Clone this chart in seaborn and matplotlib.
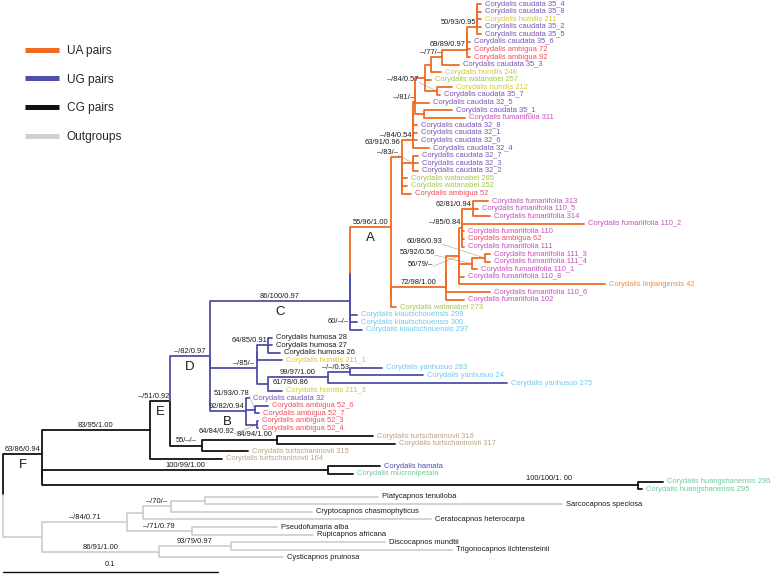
import pandas as pd
import matplotlib
matplotlib.use("Agg")
import matplotlib.pyplot as plt
from matplotlib.lines import Line2D
import seaborn as sns

# tip labels, top to bottom
taxa = [
    "Corydalis caudata 35_4", "Corydalis caudata 35_8", "Corydalis humilis 211",
    "Corydalis caudata 35_2", "Corydalis caudata 35_5", "Corydalis caudata 35_6",
    "Corydalis ambigua 72", "Corydalis ambigua 92", "Corydalis caudata 35_3",
    "Corydalis humilis 248", "Corydalis watanabei 257", "Corydalis humilis 212",
    "Corydalis caudata 35_7", "Corydalis caudata 32_5", "Corydalis caudata 35_1",
    "Corydalis fumariifolia 311", "Corydalis caudata 32_8", "Corydalis caudata 32_1",
    "Corydalis caudata 32_6", "Corydalis caudata 32_4", "Corydalis caudata 32_7",
    "Corydalis caudata 32_3", "Corydalis caudata 32_2", "Corydalis watanabei 265",
    "Corydalis watanabei 252", "Corydalis ambigua 52", "Corydalis fumariifolia 313",
    "Corydalis fumariifolia 110_5", "Corydalis fumariifolia 314", "Corydalis fumariifolia 110_2",
    "Corydalis fumariifolia 110", "Corydalis ambigua 62", "Corydalis fumariifolia 111",
    "Corydalis fumariifolia 111_3", "Corydalis fumariifolia 111_4", "Corydalis fumariifolia 110_1",
    "Corydalis fumariifolia 110_8", "Corydalis linjiangensis 42", "Corydalis fumariifolia 110_6",
    "Corydalis fumariifolia 102", "Corydalis watanabei 273", "Corydalis kiautschouensis 299",
    "Corydalis kiautschouensis 300", "Corydalis kiautschouensis 297", "Corydalis humosa 28",
    "Corydalis humosa 27", "Corydalis humosa 26", "Corydalis humilis 211_1",
    "Corydalis yanhusuo 283", "Corydalis yanhusuo 24", "Corydalis yanhusuo 275",
    "Corydalis humilis 211_3", "Corydalis caudata 32", "Corydalis ambigua 52_6",
    "Corydalis ambigua 52_7", "Corydalis ambigua 52_3", "Corydalis ambigua 52_4",
    "Corydalis turtschaninovii 316", "Corydalis turtschaninovii 317",
    "Corydalis turtschaninovii 315", "Corydalis turtschaninovii 164",
    "Corydalis hamata", "Corydalis mucronipetala", "Corydalis huangshanensis 296",
    "Corydalis huangshanensis 295", "Platycapnos tenuiloba", "Sarcocapnos speciosa",
    "Cryptocapnos chasmophyticus", "Ceratocapnos heterocarpa", "Pseudofumaria alba",
    "Rupicapnos africana", "Discocapnos mundtii", "Trigonocapnos lichtensteinii",
    "Cysticapnos pruinosa",
]

species_colors = {
    "caudata": "#7b52b5", "humilis": "#d8c53a", "ambigua": "#ee4d5c",
    "watanabei": "#a2c64c", "fumariifolia": "#c44fba", "linjiangensis": "#f08c34",
    "kiautschouensis": "#6cc8ec", "yanhusuo": "#6cc8ec", "humosa": "#1a1a1a",
    "turtschaninovii": "#bba285", "hamata": "#4c4fad", "mucronipetala": "#6ec89a",
    "huangshanensis": "#6ec89a",
}

# tree pieces (newick, tips = index in taxa, branch lengths in 0.001 subst./site)
top5 = "((((0:1.9,1:1.9):0,2:1.9):0,3:1.9):0,4:1.9)50/93/0.95:4.7"
n69 = f"((({top5},5:1.4):0,6:1.4):0,7:1.4)69/89/0.97:11.6"
n77 = f"({n69},8:7.9)–/77/–:5.1"
n_top = f"(({n77},9:4.7):2.8,10:2.8,(11:7.0,12:1.4)–/84/0.57:5.6):4.7"
n81 = f"(({n_top},13:6.5):0,(14:13.0,15:19.1):4.2)–/81/–:0.9"
n84b = f"(((({n81},16:1.9):0,17:1.9):0,18:1.9):0,19:7.4)–/84/0.54:5.1"
n83 = "(20:2.3,21:2.3,22:2.3)–/83/–:5.1"
u_clade = f"({n84b},({n83},(23:2.3,(24:2.3,25:4.2):0):0):0)63/91/0.96:5.1"
n85 = "((26:7.0,27:2.3,28:7.9)62/81/0.94:5.1,29:56.7,30:0.9,31:0.9,32:0.9)–/85/0.84:1.4"
s_clade = f"({n85},((33:2.3,34:2.3)60/86/0.93:6.0,35:2.3)53/92/0.56:6.0,36:2.3,37:67.9)56/79/–:6.0"
fum_clade = f"(({s_clade},38:20.5):0,39:8.4)72/98/1.00:25.6"
a_clade = f"({u_clade},({fum_clade},40:2.3):0)55/96/1.00#A:19.1"
c_clade = f"(({a_clade},(41:3.3,42:3.3)60/–/–:0):0,43:5.6)86/100/0.97#C:65.1"
x85 = ("(((44:1.9,45:1.9,46:5.6)64/85/0.91:5.1,47:11.6):0,"
       "(((48:14.9,49:34.0)–/–/0.53:10.2,50:83.3)99/97/1.00:27.9,51:6.5)61/78/0.86:5.1)–/85/–:21.9")
b_clade = "(52:1.4,(53:6.0,54:1.9)51/93/0.78:4.2,(55:0.5,56:0.5)64/84/0.92:5.1)92/82/0.94#B:16.7"
d_clade = f"({c_clade},{x85},{b_clade})–/82/0.97#D:18.6"
t_clade = "((57:44.7,58:54.9)84/94/1.00:34.9,59:21.4)55/–/–:14.9"
e_clade = f"(({d_clade},{t_clade})–/51/0.92#E:9.3,60:33.5)83/95/1.00:50.2"
f_clade = (f"({e_clade},((61:24.2,62:11.6)100/99/1.00:133.0,"
           "(63:11.6,64:1.9)100/100/1. 00:277.2):0)63/86/0.94#F:18.1")
og_x = "((((65:80.5,66:166.0):15.8,67:65.6)–/70/–:13.0,68:134.0):7.4,(69:39.5,70:56.3)–/71/0.79:30.2)–/84/0.71:39.5"
og_y = "((71:71.6,72:102.8)93/79/0.97:33.5,73:57.7)86/91/1.00:54.4"
og_clade = f"({og_x},{og_y})#OG:18.1"
newick = f"({f_clade},{og_clade});"

pair_groups = {"A": "UA pairs", "D": "UG pairs", "OG": "Outgroups"}
pair_colors = {"UA pairs": "#f06a22", "UG pairs": "#4e4fa8",
               "CG pairs": "#111111", "Outgroups": "#d0d0d0"}
clade_letters = ["A", "B", "C", "D", "E", "F"]

# hand-placed support labels: (dx, dy, leader line)
label_moves = {
    "63/91/0.96": (-9.1, -1.82, False),
    "–/84/0.57": (-15.8, -1.48, True),
    "–/83/–": (-11.6, -1.35, True),
    "60/86/0.93": (-28.1, -2.11, True),
    "53/92/0.56": (-25.3, -1.41, True),
    "56/79/–": (-17.9, 1.06, True),
    "51/93/0.78": (-10.9, -2.18, True),
    "64/84/0.92": (-18.8, 0.95, True),
    "61/78/0.86": (10.7, -0.13, False),
    "100/100/1. 00": (-41.4, -0.92, False),
    "60/–/–": (-5.6, 0.45, False),
    "84/94/1.00": (-10.2, -0.66, False),
    "–/85/–": (-6.3, -0.6, False),
}


def parse(s):
    pos = 0

    def node():
        nonlocal pos
        n = {"children": [], "label": "", "name": "", "length": 0.0}
        if s[pos] == "(":
            pos += 1
            while True:
                n["children"].append(node())
                if s[pos] == ",":
                    pos += 1
                else:
                    break
            pos += 1
        start = pos
        while s[pos] not in ":,);":
            pos += 1
        tok = s[start:pos]
        if "#" in tok:
            tok, n["name"] = tok.split("#")
        if n["children"]:
            n["label"] = tok
        else:
            n["tip"] = int(tok)
        if s[pos] == ":":
            pos += 1
            start = pos
            while s[pos] not in ",);":
                pos += 1
            n["length"] = float(s[start:pos])
        return n

    return node()


def layout(n, x0, group, parent=None):
    n["x"] = x0 + n["length"]
    n["group"] = pair_groups.get(n["name"], group)
    n["parent"] = parent
    if n["children"]:
        for c in n["children"]:
            layout(c, n["x"], n["group"], n)
        n["y"] = (n["children"][0]["y"] + n["children"][-1]["y"]) / 2
    else:
        n["y"] = n["tip"]


def walk(n):
    yield n
    for c in n["children"]:
        yield from walk(c)


root = parse(newick)
layout(root, 0.0, "CG pairs")
nodes = list(walk(root))

rows = []
for i, n in enumerate(nodes):
    p = n["parent"]
    if p is None:
        continue
    for x, y in [(p["x"], p["y"]), (p["x"], n["y"]), (n["x"], n["y"])]:
        rows.append({"edge": i, "x": x, "y": y, "pair": n["group"]})
seg_df = pd.DataFrame(rows)

sns.set_theme(style="white")
plt.rcParams["font.family"] = ["Liberation Sans", "DejaVu Sans"]

fig = plt.figure(figsize=(7.75, 5.76), dpi=100)
ax = fig.add_axes([0, 0, 1, 1])
sns.lineplot(data=seg_df, x="x", y="y", units="edge", estimator=None, hue="pair",
             palette=pair_colors, sort=False, legend=False, linewidth=1.3, ax=ax)
ax.set_xlim(-1.4, 359.1)
ax.set_ylim(75.46, -0.53)
ax.axis("off")

fig.canvas.draw()
renderer = fig.canvas.get_renderer()
inv = ax.transData.inverted()


def data_width(t):
    bb = t.get_window_extent(renderer)
    return inv.transform((bb.x1, 0))[0] - inv.transform((bb.x0, 0))[0]


for n in nodes:
    if not n["children"]:
        name = taxa[n["tip"]]
        parts = name.split()
        color = species_colors.get(parts[1], "#1a1a1a") if parts[0] == "Corydalis" else "#1a1a1a"
        ax.text(n["x"] + 1.9, n["y"], name, fontsize=5.4, color=color, va="center", ha="left")
        continue
    p = n["parent"]
    if p is None:
        continue
    mid = (p["x"] + n["x"]) / 2
    if n["label"]:
        lab = n["label"]
        if lab in label_moves:
            dx, dy, leader = label_moves[lab]
            t = ax.text(n["x"] + dx, n["y"] + dy, lab, fontsize=5.4, color="#1a1a1a",
                        ha="center", va="center")
            if leader:
                w = data_width(t)
                ax.plot([n["x"] + dx + w / 2, n["x"]], [n["y"] + dy + 0.3, n["y"]],
                        color="#b0b0b0", lw=0.5, zorder=0)
        else:
            t = ax.text(mid, n["y"] - 0.15, lab, fontsize=5.4, color="#1a1a1a",
                        ha="center", va="bottom")
            w = data_width(t)
            if mid + w / 2 > n["x"] - 0.4:
                t.set_x(n["x"] - 0.4)
                t.set_ha("right")
    if n["name"] in clade_letters:
        ax.text(mid, n["y"] + 1.45, n["name"], fontsize=9.5, color="#1a1a1a",
                ha="center", va="center")

# scale bar
ax.plot([0, 100], [74.93, 74.93], color="#111111", lw=1.0)
ax.text(50, 73.9, "0.1", fontsize=5.4, ha="center", va="center", color="#1a1a1a")

handles = [Line2D([], [], color=pair_colors[k], lw=3.6, solid_capstyle="butt")
           for k in ["UA pairs", "UG pairs", "CG pairs", "Outgroups"]]
ax.legend(handles, ["UA pairs", "UG pairs", "CG pairs", "Outgroups"],
          loc="upper left", bbox_to_anchor=(0.032, 0.922), frameon=False,
          fontsize=8.6, handlelength=2.83, handletextpad=0.67, labelspacing=1.4,
          borderpad=0, borderaxespad=0)

fig.savefig("out.png", dpi=100)
